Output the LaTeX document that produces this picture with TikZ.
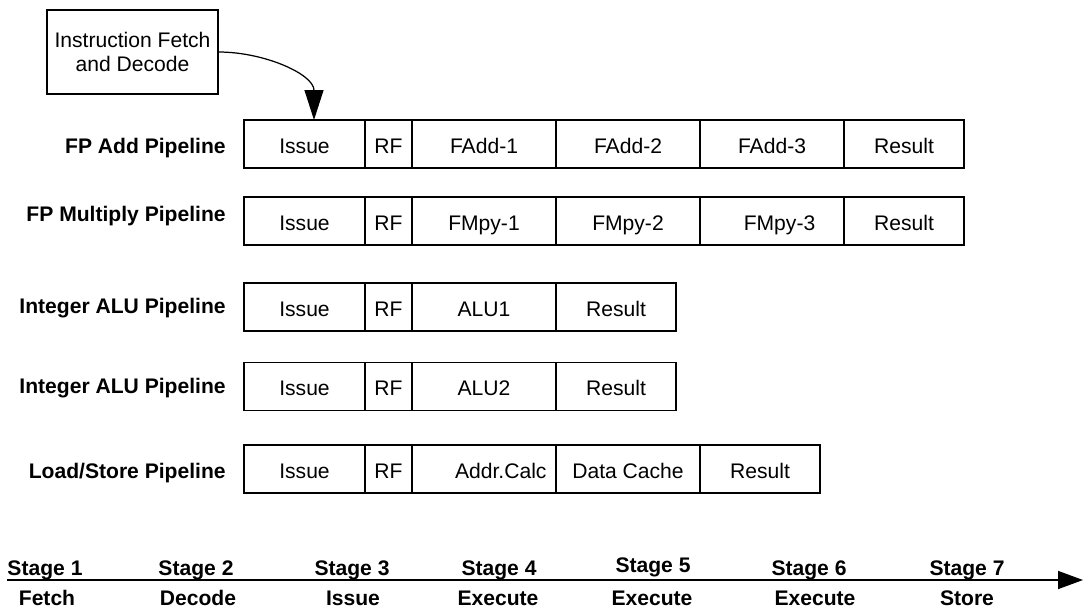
\documentclass[tikz,border=0pt]{standalone}
\usepackage{fontspec}
\setmainfont{Liberation Sans}
\usetikzlibrary{arrows.meta,positioning}

\begin{document}
\begin{tikzpicture}[
    cell/.style={rectangle, draw, line width=0.6pt, minimum height=0.96cm,
                 text height=10.4pt, text depth=0pt,
                 inner sep=0pt, outer sep=0pt, font=\fontsize{12}{14}\selectfont},
    issue/.style={cell, minimum width=2.42cm},
    rf/.style={cell, minimum width=0.94cm},
    exe/.style={cell, minimum width=2.88cm},
    result/.style={cell, minimum width=2.4cm},
    pipe/.style={font=\fontsize{12}{14}\selectfont\bfseries, inner sep=0pt,
                 text height=10.4pt, text depth=0pt},
    tick/.style={font=\fontsize{12}{14}\selectfont\bfseries, anchor=base, inner sep=0pt},
    arrow/.style={-{Triangle[length=0.6cm,width=0.38cm]}, line width=0.7pt},
    timeline/.style={-{Triangle[length=0.5cm,width=0.36cm]}, line width=0.8pt}
]
\useasboundingbox (0,0) rectangle (21.66,-12.18);

% fetch/decode unit
\node[draw, line width=0.6pt, minimum width=3.42cm, minimum height=1.68cm, align=center,
      font=\fontsize{12}{13.7}\selectfont] (ifd) at (2.65,-1.04) {Instruction Fetch\\and Decode};

% FP add
\node[issue, anchor=west] (a1) at (4.88,-2.88) {Issue};
\node[rf, right=0pt of a1] (a2) {RF};
\node[exe, right=0pt of a2] (a3) {FAdd-1};
\node[exe, right=0pt of a3] (a4) {FAdd-2};
\node[exe, right=0pt of a4] (a5) {FAdd-3};
\node[result, right=0pt of a5] (a6) {Result};
\node[pipe, left=0.36cm of a1] (alabel) {FP Add Pipeline};

% FP multiply
\node[issue, anchor=west] (m1) at (4.88,-4.42) {Issue};
\node[rf, right=0pt of m1] (m2) {RF};
\node[exe, right=0pt of m2] (m3) {FMpy-1};
\node[exe, right=0pt of m3] (m4) {FMpy-2};
\node[exe, right=0pt of m4] (m5) {\hspace{0.3cm}FMpy-3};
\node[result, right=0pt of m5] (m6) {Result};
\node[pipe, left=0.36cm of m1, yshift=0.18cm] (mlabel) {FP Multiply Pipeline};

% integer ALUs
\node[issue, anchor=west] (i1) at (4.88,-6.14) {Issue};
\node[rf, right=0pt of i1] (i2) {RF};
\node[exe, right=0pt of i2] (i3) {ALU1};
\node[result, right=0pt of i3] (i4) {Result};
\node[pipe, left=0.36cm of i1, yshift=0.05cm] (ilabel) {Integer ALU Pipeline};

\node[issue, anchor=west] (j1) at (4.88,-7.73) {Issue};
\node[rf, right=0pt of j1] (j2) {RF};
\node[exe, right=0pt of j2] (j3) {ALU2};
\node[result, right=0pt of j3] (j4) {Result};
\node[pipe, left=0.36cm of j1, yshift=0.05cm] (jlabel) {Integer ALU Pipeline};

% load/store
\node[issue, anchor=west] (l1) at (4.88,-9.38) {Issue};
\node[rf, right=0pt of l1] (l2) {RF};
\node[exe, right=0pt of l2, text width=2.5cm, align=right] (l3) {Addr.Calc};
\node[exe, right=0pt of l3] (l4) {Data Cache};
\node[result, right=0pt of l4] (l5) {Result};
\node[pipe, left=0.36cm of l1] (llabel) {Load/Store Pipeline};

\draw[arrow] (ifd.east) to[out=0, in=90] ([xshift=0.19cm]a1.north);

% stage axis
\coordinate (tstart) at (0.14,-11.6);
\coordinate (tend) at (21.66,-11.6);
\draw[timeline] (tstart) -- (tend);

\node[tick] (s1) at (0.9,-11.5) {Stage 1};
\node[tick] (s2) at (3.92,-11.5) {Stage 2};
\node[tick] (s3) at (7.04,-11.5) {Stage 3};
\node[tick] (s4) at (9.98,-11.5) {Stage 4};
\node[tick] (s5) at (13.06,-11.44) {Stage 5};
\node[tick] (s6) at (16.18,-11.5) {Stage 6};
\node[tick] (s7) at (19.34,-11.5) {Stage 7};

\node[tick] (p1) at (0.94,-12.1) {Fetch};
\node[tick] (p2) at (3.96,-12.1) {Decode};
\node[tick] (p3) at (7.06,-12.1) {Issue};
\node[tick] (p4) at (9.96,-12.1) {Execute};
\node[tick] (p5) at (13.04,-12.1) {Execute};
\node[tick] (p6) at (16.3,-12.1) {Execute};
\node[tick] (p7) at (19.34,-12.1) {Store};
\end{tikzpicture}
\end{document}
